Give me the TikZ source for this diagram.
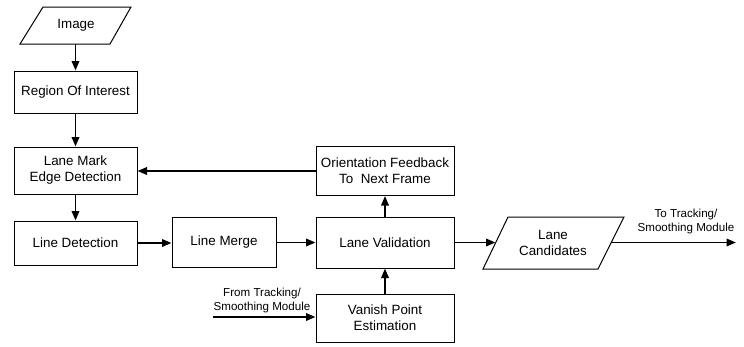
\documentclass[tikz,border=0pt]{standalone}
\usepackage{fontspec}
\setmainfont{Liberation Sans}
\usetikzlibrary{arrows.meta,calc}
\begin{document}
\begin{tikzpicture}[x=1pt,y=-1pt,
  box/.style={draw,line width=1pt,rectangle,align=center,inner sep=0pt,font=\fontsize{13.4}{16}\selectfont},
  txt/.style={align=center,inner sep=0pt,font=\fontsize{13.4}{16}\selectfont},
  small/.style={align=center,inner sep=0pt,font=\fontsize{11.6}{14}\selectfont},
  arr/.style={line width=1.9pt,-{Triangle[length=9.5pt,width=7.5pt]}},
  para/.style={line width=1pt,line join=miter}]
\useasboundingbox (0,0) rectangle (744,346);
% parallelogram: Image
\node[txt] (img) at (76,25.5) {Image};
\coordinate (imgtl) at (43,7); \coordinate (imgtr) at (131,7);
\coordinate (imgbr) at (110,44); \coordinate (imgbl) at (20,44);
\draw[para] (imgtl) -- (imgtr) -- (imgbr) -- (imgbl) -- cycle;
\coordinate (imgb) at (75.5,44);
% boxes
\node[box,minimum width=123pt,minimum height=42pt] (roi) at (75.5,92) {Region Of Interest};
\node[box,minimum width=123pt,minimum height=47pt] (lme) at (75.5,170.5) {Lane Mark\\Edge Detection};
\node[box,minimum width=123pt,minimum height=44pt] (ld) at (75.5,243) {Line Detection};
\node[box,minimum width=104pt,minimum height=50pt] (lm) at (224,242.5) {Line Merge};
\node[box,minimum width=138pt,minimum height=51pt] (lv) at (385,242.5) {Lane Validation};
\node[box,minimum width=138pt,minimum height=49pt] (of) at (385,171) {Orientation Feedback\\To\ \ Next Frame};
\node[box,minimum width=138pt,minimum height=48pt] (vp) at (385,318) {Vanish Point\\Estimation};
% parallelogram: Lane Candidates
\node[txt] (lc) at (553,243) {Lane\\Candidates};
\coordinate (lctl) at (508,217); \coordinate (lctr) at (624,217);
\coordinate (lcbr) at (598,269); \coordinate (lcbl) at (483,269);
\draw[para] (lctl) -- (lctr) -- (lcbr) -- (lcbl) -- cycle;
\coordinate (lcw) at (495.5,242.5);
\coordinate (lce) at (611,242.5);
\coordinate (outend) at (736,242.5);
\coordinate (inbeg) at (213,317);
% labels
\node[small] (tolab) at (686,221.5) {To Tracking/\\Smoothing Module};
\node[small] (fromlab) at (262,300) {From Tracking/\\Smoothing Module};
% arrows
\draw[arr] (imgb) -- (roi.north);
\draw[arr] (roi.south) -- (lme.north);
\draw[arr] (lme.south) -- (ld.north);
\draw[arr] (ld.east) -- (ld.east -| lm.west);
\draw[arr] (lm.east) -- (lv.west);
\draw[arr] (lv.north) -- (of.south);
\draw[arr] (vp.north) -- (lv.south);
\draw[arr] (of.west) -- (of.west -| lme.east);
\draw[arr] (lv.east) -- (lcw);
\draw[arr] (lce) -- (outend);
\draw[arr] (inbeg) -- (inbeg -| vp.west);
\end{tikzpicture}
\end{document}
